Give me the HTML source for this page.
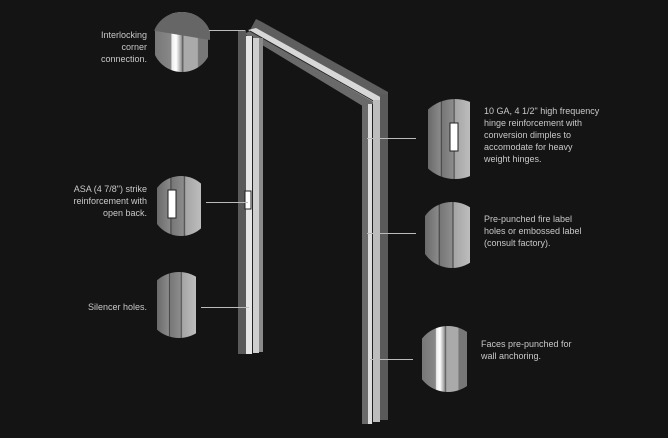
<!DOCTYPE html>
<html><head><meta charset="utf-8"><style>
html,body{margin:0;padding:0;background:#141414;}
svg{display:block}
text{font-family:"Liberation Sans",sans-serif;font-size:9px;fill:#c8c8c8;}
</style></head><body>
<svg width="668" height="438" viewBox="0 0 668 438" xmlns="http://www.w3.org/2000/svg">
<defs>
<linearGradient id="stripe" x1="0" x2="1" y1="0" y2="0">
<stop offset="0" stop-color="#6a6a6a"/><stop offset="0.3" stop-color="#8a8a8a"/><stop offset="0.31" stop-color="#333"/><stop offset="0.34" stop-color="#777"/><stop offset="0.6" stop-color="#8c8c8c"/><stop offset="0.62" stop-color="#444"/><stop offset="0.65" stop-color="#a5a5a5"/><stop offset="1" stop-color="#bdbdbd"/>
</linearGradient>
<linearGradient id="stripe2" x1="0" x2="1" y1="0" y2="0">
<stop offset="0" stop-color="#777"/><stop offset="0.3" stop-color="#888"/><stop offset="0.32" stop-color="#eee"/><stop offset="0.4" stop-color="#fff"/><stop offset="0.5" stop-color="#999"/><stop offset="0.52" stop-color="#555"/><stop offset="0.55" stop-color="#aaa"/><stop offset="0.8" stop-color="#aaa"/><stop offset="0.82" stop-color="#777"/><stop offset="1" stop-color="#777"/>
</linearGradient>
<clipPath id="c1"><circle cx="182" cy="42" r="30"/></clipPath>
<clipPath id="c2"><circle cx="181" cy="206" r="30"/></clipPath>
<clipPath id="c3"><circle cx="179" cy="305" r="33"/></clipPath>
<clipPath id="c4"><circle cx="455" cy="139" r="40"/></clipPath>
<clipPath id="c5"><circle cx="452" cy="235" r="33"/></clipPath>
<clipPath id="c6"><circle cx="448" cy="359" r="33"/></clipPath>
</defs>

<!-- header -->
<polygon points="256,19 262,22 388,92 388,100 376,100 250,30" fill="#5e5e5e"/>
<polygon points="248,30 256,28 382,98 376,104" fill="#d8d8d8"/>
<polygon points="244,34 250,31 377,104 366,108" fill="#6a6a6a"/>
<line x1="250" y1="31" x2="377" y2="103" stroke="#222" stroke-width="1"/>
<!-- left jamb -->
<rect x="238" y="30" width="8" height="324" fill="#5a5a5a"/>
<rect x="246" y="36" width="6" height="318" fill="#e6e6e6"/>
<rect x="252" y="36" width="1" height="318" fill="#222"/>
<rect x="253" y="38" width="6" height="315" fill="#cfcfcf"/>
<rect x="259" y="38" width="4" height="314" fill="#8a8a8a"/>
<rect x="245" y="191" width="6" height="18" fill="#fff" stroke="#222"/>
<!-- right jamb -->
<rect x="362" y="102" width="6" height="322" fill="#6a6a6a"/>
<rect x="368" y="104" width="4" height="320" fill="#dcdcdc"/>
<rect x="372" y="104" width="1" height="320" fill="#222"/>
<rect x="373" y="100" width="7" height="322" fill="#bdbdbd"/>
<rect x="380" y="94" width="8" height="326" fill="#5a5a5a"/>

<!-- circles -->
<g clip-path="url(#c1)"><rect x="155" y="12" width="53" height="60" fill="url(#stripe2)"/><polygon points="150,10 210,10 210,40 150,30" fill="#666"/></g>
<g clip-path="url(#c2)"><rect x="157" y="170" width="44" height="70" fill="url(#stripe)"/><rect x="168" y="190" width="8" height="28" fill="#fff" stroke="#222"/></g>
<g clip-path="url(#c3)"><rect x="157" y="270" width="39" height="70" fill="url(#stripe)"/></g>
<g clip-path="url(#c4)"><rect x="428" y="95" width="42" height="90" fill="url(#stripe)"/><rect x="450" y="123" width="8" height="28" fill="#fff" stroke="#222"/></g>
<g clip-path="url(#c5)"><rect x="425" y="200" width="45" height="70" fill="url(#stripe)"/></g>
<g clip-path="url(#c6)"><rect x="422" y="324" width="45" height="70" fill="url(#stripe2)"/></g>

<!-- leaders -->
<g stroke="#bbb" stroke-width="1">
<line x1="209" y1="30.5" x2="245" y2="30.5"/>
<line x1="206" y1="202.5" x2="248" y2="202.5"/>
<line x1="201" y1="307.5" x2="249" y2="307.5"/>
<line x1="367" y1="138.5" x2="416" y2="138.5"/>
<line x1="367" y1="233.5" x2="416" y2="233.5"/>
<line x1="370" y1="359.5" x2="413" y2="359.5"/>
</g>

<g text-anchor="end">
<text x="147" y="38">Interlocking</text>
<text x="147" y="50">corner</text>
<text x="147" y="62">connection.</text>
<text x="147" y="192">ASA (4 7/8") strike</text>
<text x="147" y="204">reinforcement with</text>
<text x="147" y="216">open back.</text>
<text x="147" y="310">Silencer holes.</text>
</g>
<text x="484" y="114">10 GA, 4 1/2" high frequency</text>
<text x="484" y="126">hinge reinforcement with</text>
<text x="484" y="138">conversion dimples to</text>
<text x="484" y="150">accomodate for heavy</text>
<text x="484" y="162">weight hinges.</text>
<text x="484" y="222">Pre-punched fire label</text>
<text x="484" y="234">holes or embossed label</text>
<text x="484" y="246">(consult factory).</text>
<text x="481" y="347">Faces pre-punched for</text>
<text x="481" y="359">wall anchoring.</text>
</svg>
</body></html>
